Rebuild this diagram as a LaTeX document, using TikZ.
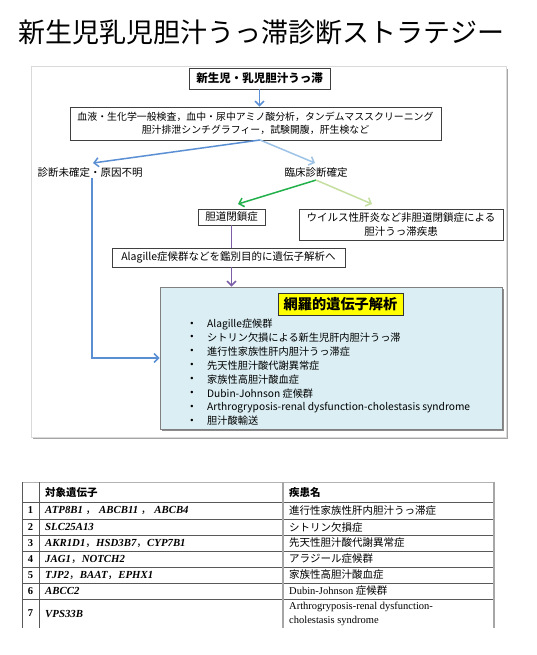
\documentclass[tikz,border=0pt]{standalone}
\usepackage{fontspec}
\setmainfont{Liberation Serif}
\newfontfamily\jp{Noto Sans CJK JP}
\newfontfamily\lsans{Liberation Sans}
\usetikzlibrary{arrows.meta}
\definecolor{ablue}{HTML}{5B8FD4}
\definecolor{lblue}{HTML}{9DC3E6}
\definecolor{agreen}{HTML}{22B04B}
\definecolor{lgreen}{HTML}{C5DFA0}
\definecolor{apurple}{HTML}{7B5EA7}
\definecolor{genefill}{HTML}{DAEEF3}
\definecolor{yel}{HTML}{FFFF00}
\begin{document}
\begin{tikzpicture}[x=1pt,y=-1pt,
  box/.style={draw=black!75, line width=0.8pt, fill=white, inner sep=0pt,
    font=\jp\fontsize{10.5}{13}\selectfont, align=center},
  lbl/.style={inner sep=0pt, font=\jp\fontsize{10.5}{13}\selectfont},
  arr/.style={line width=1.5pt, -{Straight Barb[length=4.5pt,width=9pt]}},
  gline/.style={inner sep=0pt, anchor=west, font=\jp\fontsize{10.2}{12}\selectfont},
  tjp/.style={inner sep=0pt, anchor=west, font=\jp\fontsize{10.5}{12}\selectfont},
  tnum/.style={inner sep=0pt, font=\fontsize{10.5}{12}\selectfont\bfseries},
  tgene/.style={inner sep=0pt, anchor=west, font=\fontsize{10.8}{12}\selectfont\bfseries\itshape},
  tline/.style={draw=black!65, line width=0.6pt},
  tthick/.style={draw=black!35, line width=1.5pt}]
\useasboundingbox (0,0) rectangle (536,655);
% title
\node[inner sep=0pt, font=\jp\fontsize{27}{30}\selectfont] (title) at (261,32) {新生児乳児胆汁うっ滞診断ストラテジー};
% panel
\fill[black!35] (33,69) rectangle (508,439);
\draw[draw=black!15, fill=white, line width=0.6pt] (31,66) rectangle (506,437);
% boxes
\node[box, minimum width=141pt, minimum height=21pt, font=\jp\bfseries\fontsize{11.5}{13}\selectfont] (top) at (259.5,78.5) {新生児・乳児胆汁うっ滞};
\node[box, minimum width=371pt, minimum height=33pt, font=\jp\fontsize{9.9}{13}\selectfont] (b2) at (255.5,123.5) {血液・生化学一般検査，血中・尿中アミノ酸分析，タンデムマススクリーニング\\胆汁排泄シンチグラフィー，試験開腹，肝生検など};
\node[lbl] (und) at (90,173) {診断未確定・原因不明};
\node[lbl] (rin) at (316,173) {臨床診断確定};
\node[box, minimum width=67pt, minimum height=16pt] (tan) at (231.5,217) {胆道閉鎖症};
\node[box, minimum width=204pt, minimum height=31pt, font=\jp\fontsize{10.5}{13.5}\selectfont] (vir) at (401,224.5) {ウイルス性肝炎など非胆道閉鎖症による\\胆汁うっ滞疾患};
\node[box, minimum width=233pt, minimum height=19pt] (ala) at (228.5,257.5) {Alagille症候群などを鑑別目的に遺伝子解析へ};
% gene box
\fill[black!45] (162,289) rectangle (504,431);
\node[draw=black!50, line width=0.8pt, fill=genefill, minimum width=342pt, minimum height=142pt, inner sep=0pt] (gene) at (331,358) {};
\node[draw=black!80, line width=0.8pt, fill=yel, minimum width=125pt, minimum height=22pt, inner sep=0pt, font=\jp\bfseries\fontsize{14.2}{16}\selectfont] (yb) at (340.5,304) {網羅的遺伝子解析};
\foreach \t [count=\i] in {Alagille症候群, シトリン欠損による新生児肝内胆汁うっ滞, 進行性家族性肝内胆汁うっ滞症, 先天性胆汁酸代謝異常症, 家族性高胆汁酸血症, Dubin-Johnson 症候群, Arthrogryposis-renal dysfunction-cholestasis syndrome, 胆汁酸輸送}{
  \node[gline] (g\i) at (207,{324+13.86*(\i-1)}) {\t};
  \node[inner sep=0pt, font=\lsans\fontsize{9}{10}\selectfont] (bu\i) at (192,{324+13.86*(\i-1)}) {•};
}
% connectors
\coordinate (b2s) at (260,140);
\coordinate (ul) at (93,163);
\coordinate (ur) at (315,163);
\coordinate (ga) at (238,204);
\coordinate (gb) at (372,204);
\draw[arr, ablue] (top.south) -- (top.south |- b2.north);
\draw[arr, ablue] (b2s) -- (ul);
\draw[arr, lblue] (b2s) -- (ur);
\draw[arr, ablue] ([xshift=2pt]und.south) |- (gene.west);
\draw[arr, agreen] ([yshift=-2pt]rin.south) -- (ga);
\draw[arr, lgreen] ([yshift=-2pt]rin.south) -- (gb);
\draw[line width=1.5pt, apurple] (tan.south) -- (tan.south |- ala.north);
\draw[arr, apurple] (tan.south |- ala.south) -- (tan.south |- gene.north);
% table
\draw[draw=black!30, line width=0.6pt] (22,482) -- (494,482);
\foreach \yy in {502,519,535,551,567,583,599}{
  \draw[tline] (22,\yy) -- (494,\yy);
}
\draw[tline] (22,482) -- (22,628);
\draw[tline] (39,482) -- (39,628);
\draw[tthick] (283,482) -- (283,628);
\draw[tthick] (494,482) -- (494,628);
\node[tjp, font=\jp\bfseries\fontsize{10.5}{12}\selectfont] (h1) at (45,492.5) {対象遺伝子};
\node[tjp, font=\jp\bfseries\fontsize{10.5}{12}\selectfont] (h2) at (289,492.5) {疾患名};
\node[tnum] (n1) at (30.5,510.5) {1};
\node[tnum] (n2) at (30.5,527) {2};
\node[tnum] (n3) at (30.5,543) {3};
\node[tnum] (n4) at (30.5,559) {4};
\node[tnum] (n5) at (30.5,575) {5};
\node[tnum] (n6) at (30.5,591) {6};
\node[tnum] (n7) at (30.5,613.5) {7};
\node[tgene] (e1) at (45,510.5) {ATP8B1 {\jp\mdseries\upshape ，} ABCB11 {\jp\mdseries\upshape ，} ABCB4};
\node[tgene] (e2) at (45,527) {SLC25A13};
\node[tgene] (e3) at (45,543) {AKR1D1{\jp\mdseries\upshape ，}HSD3B7{\jp\mdseries\upshape ，}CYP7B1};
\node[tgene] (e4) at (45,559) {JAG1{\jp\mdseries\upshape ，}NOTCH2};
\node[tgene] (e5) at (45,575) {TJP2{\jp\mdseries\upshape ，}BAAT{\jp\mdseries\upshape ，}EPHX1};
\node[tgene] (e6) at (45,591) {ABCC2};
\node[tgene] (e7) at (45,613.5) {VPS33B};
\node[tjp] (d1) at (289,510.5) {進行性家族性肝内胆汁うっ滞症};
\node[tjp] (d2) at (289,527) {シトリン欠損症};
\node[tjp] (d3) at (289,543) {先天性胆汁酸代謝異常症};
\node[tjp] (d4) at (289,559) {アラジール症候群};
\node[tjp] (d5) at (289,575) {家族性高胆汁酸血症};
\node[tjp, font=\fontsize{10.5}{12}\selectfont] (d6) at (289,591) {Dubin-Johnson {\jp 症候群}};
\node[tjp, font=\fontsize{10.5}{14}\selectfont, align=left] (d7) at (289,613.5) {Arthrogryposis-renal dysfunction-\\cholestasis syndrome};
\end{tikzpicture}
\end{document}
